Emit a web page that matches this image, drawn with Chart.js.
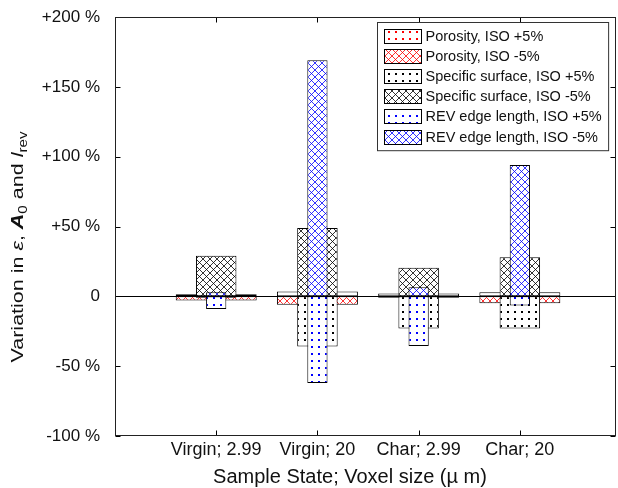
<!DOCTYPE html>
<html>
<head>
<meta charset="utf-8">
<script src="https://cdn.jsdelivr.net/npm/chart.js@4.4.1/dist/chart.umd.min.js"></script>
<style>
  html, body { margin: 0; padding: 0; background: #fff; }
  #wrap { width: 618px; height: 488px; }
</style>
</head>
<body>
<div id="wrap"><canvas id="chart" width="618" height="488"></canvas></div>
<script>
// categories (sample state; voxel size) and their positions on the x axis
const sampleStates = ['Virgin; 2.99', 'Virgin; 20', 'Char; 2.99', 'Char; 20'];
const samplePositions = [1, 2, 3, 4];

// variation in %
const porosityPlus5 = [1.5, 3.5, 2, 3];
const porosityMinus5 = [-3, -6, -1, -5];
const surfacePlus5 = [-1, -36, -23, -23];
const surfaceMinus5 = [29, 49, 20.5, 28];
const revPlus5 = [-9, -62, -35.5, -6.5];
const revMinus5 = [3, 169, 6.5, 94];

const seriesLabels = [
    'Porosity, ISO +5%', 'Porosity, ISO -5%',
    'Specific surface, ISO +5%', 'Specific surface, ISO -5%',
    'REV edge length, ISO +5%', 'REV edge length, ISO -5%'
];

const yMin = -100;
const yMax = 200;
const yStep = 50;

const FONT = "'Liberation Sans', Arial, Helvetica, sans-serif";
const TEXT = '#111';

const canvas = document.getElementById('chart');
const ctx = canvas.getContext('2d');

// dotted fill (ISO +5%)
function dots(color) {
    const c = document.createElement('canvas');
    c.width = 7; c.height = 7;
    const g = c.getContext('2d');
    g.fillStyle = '#fff';
    g.fillRect(0, 0, 7, 7);
    g.fillStyle = color;
    g.fillRect(3, 3, 2, 2);
    return ctx.createPattern(c, 'repeat');
}

// crosshatch fill (ISO -5%)
function hatch(color) {
    const s = 7;
    const c = document.createElement('canvas');
    c.width = s; c.height = s;
    const g = c.getContext('2d');
    g.fillStyle = '#fff';
    g.fillRect(0, 0, s, s);
    g.strokeStyle = color;
    g.lineWidth = 0.8;
    g.beginPath();
    g.moveTo(-1, -1); g.lineTo(s + 1, s + 1);
    g.moveTo(s + 1, -1); g.lineTo(-1, s + 1);
    g.stroke();
    return ctx.createPattern(c, 'repeat');
}

function points(values) {
    return values.map((v, i) => ({ x: samplePositions[i], y: v }));
}

function barSet(label, values, fill, width, order) {
    return {
        label: label,
        data: points(values),
        backgroundColor: fill,
        borderColor: '#000',
        borderWidth: 1,
        borderSkipped: false,
        grouped: false,
        categoryPercentage: 1,
        barPercentage: width,
        order: order
    };
}

const datasets = [
    barSet(seriesLabels[0], porosityPlus5, dots('#ff0000'), 0.8, 3),
    barSet(seriesLabels[1], porosityMinus5, hatch('#ff0000'), 0.8, 3),
    barSet(seriesLabels[2], surfacePlus5, dots('#000'), 0.4, 2),
    barSet(seriesLabels[3], surfaceMinus5, hatch('#000'), 0.4, 2),
    barSet(seriesLabels[4], revPlus5, dots('#0000ff'), 0.2, 1),
    barSet(seriesLabels[5], revMinus5, hatch('#0000ff'), 0.2, 1)
];

function xLabel(v) {
    const i = samplePositions.indexOf(v);
    return i >= 0 ? sampleStates[i] : '';
}

function yLabel(v) {
    if (v === 0) return '0';
    return (v > 0 ? '+' : '') + v + ' %';
}

// axes box, zero line, inward tick marks (MATLAB style)
const framePlugin = {
    id: 'frame',
    afterDatasetsDraw(chart) {
        const { ctx, chartArea: a, scales: { x, y } } = chart;
        const L = Math.round(a.left) + 0.5;
        const R = Math.round(a.right) - 0.5;
        const T = Math.round(a.top) + 0.5;
        const B = Math.round(a.bottom) - 0.5;
        ctx.save();
        ctx.strokeStyle = '#000';
        ctx.lineWidth = 1;
        ctx.beginPath();
        const y0 = Math.round(y.getPixelForValue(0)) + 0.5;
        ctx.moveTo(L, y0); ctx.lineTo(R, y0);
        y.ticks.forEach(t => {
            const py = Math.round(y.getPixelForValue(t.value)) + 0.5;
            ctx.moveTo(L, py); ctx.lineTo(L + 5, py);
            ctx.moveTo(R, py); ctx.lineTo(R - 5, py);
        });
        x.ticks.forEach(t => {
            if (!xLabel(t.value)) return;
            const px = Math.round(x.getPixelForValue(t.value)) + 0.5;
            ctx.moveTo(px, B); ctx.lineTo(px, B - 5);
            ctx.moveTo(px, T); ctx.lineTo(px, T + 5);
        });
        ctx.stroke();
        ctx.strokeStyle = '#222';
        ctx.strokeRect(L, T, R - L, B - T);
        ctx.restore();
    },
    afterDraw(chart) {
        const { ctx, chartArea: a } = chart;
        ctx.save();

        // legend box, top right inside the axes
        ctx.font = '14.5px ' + FONT;
        const sets = chart.data.datasets;
        const textW = Math.max(...sets.map(d => ctx.measureText(d.label).width));
        const rowH = 20.2;
        const boxW = 7 + 37 + 4 + textW + 7;
        const boxH = sets.length * rowH + 7;
        const bx = Math.round(a.right - 8 - boxW) + 0.5;
        const by = Math.round(a.top + 5) + 0.5;
        ctx.fillStyle = '#fff';
        ctx.fillRect(bx, by, boxW, boxH);
        ctx.strokeStyle = '#333';
        ctx.lineWidth = 1;
        ctx.strokeRect(bx, by, boxW, boxH);
        sets.forEach((d, i) => {
            const cy = by + 13 + i * rowH;
            const sy = Math.round(cy - 7) + 0.5;
            ctx.fillStyle = d.backgroundColor;
            ctx.fillRect(bx + 7, sy, 37, 14);
            ctx.strokeStyle = '#000';
            ctx.strokeRect(bx + 7, sy, 37, 14);
            ctx.fillStyle = TEXT;
            ctx.textAlign = 'left';
            ctx.textBaseline = 'middle';
            ctx.fillText(d.label, bx + 7 + 37 + 4, cy + 1);
        });

        // x axis title
        ctx.font = '20px ' + FONT;
        ctx.fillStyle = TEXT;
        ctx.textAlign = 'center';
        ctx.textBaseline = 'middle';
        ctx.fillText('Sample State; Voxel size (\u00b5 m)', 350, 477);

        // y axis title with symbols and subscripts
        const parts = [
            { t: 'Variation in ', f: '17px ' + FONT, dy: 0 },
            { t: '\u03b5', f: 'italic 17px ' + FONT, dy: 0 },
            { t: ', ', f: '17px ' + FONT, dy: 0 },
            { t: 'A', f: 'italic bold 17px ' + FONT, dy: 0 },
            { t: '0', f: '12px ' + FONT, dy: 4 },
            { t: ' and ', f: '17px ' + FONT, dy: 0 },
            { t: 'l', f: 'italic 17px ' + FONT, dy: 0 },
            { t: 'rev', f: '12px ' + FONT, dy: 4 }
        ];
        let total = 0;
        parts.forEach(p => { ctx.font = p.f; p.w = ctx.measureText(p.t).width; total += p.w; });
        const sx = 231 / total;
        ctx.translate(23, 247);
        ctx.rotate(-Math.PI / 2);
        ctx.scale(sx, 1);
        ctx.textAlign = 'left';
        ctx.textBaseline = 'alphabetic';
        let cx = -total / 2;
        parts.forEach(p => {
            ctx.font = p.f;
            ctx.fillText(p.t, cx, p.dy);
            cx += p.w;
        });
        ctx.restore();
    }
};

new Chart(canvas, {
    type: 'bar',
    data: { datasets: datasets },
    options: {
        responsive: false,
        animation: false,
        devicePixelRatio: 1,
        layout: { padding: { top: 17, right: 2, left: 0, bottom: 0 } },
        plugins: {
            legend: { display: false },
            tooltip: { enabled: false }
        },
        scales: {
            x: {
                type: 'linear',
                offset: false,
                min: 0,
                max: 4.95,
                afterFit: s => { s.height = 52; s.paddingLeft = 0; s.paddingRight = 0; },
                grid: { display: false, drawTicks: false, offset: false },
                border: { display: false },
                ticks: {
                    stepSize: 1,
                    includeBounds: false,
                    autoSkip: false,
                    maxRotation: 0,
                    padding: 3,
                    color: TEXT,
                    font: { family: FONT, size: 18 },
                    callback: v => xLabel(v)
                }
            },
            y: {
                min: yMin,
                max: yMax,
                afterFit: s => { s.width = 115; s.paddingTop = 0; s.paddingBottom = 0; },
                grid: { display: false, drawTicks: false },
                border: { display: false },
                ticks: {
                    stepSize: yStep,
                    padding: 15,
                    color: TEXT,
                    font: { family: FONT, size: 17 },
                    callback: v => yLabel(v)
                }
            }
        }
    },
    plugins: [framePlugin]
});
</script>
</body>
</html>
